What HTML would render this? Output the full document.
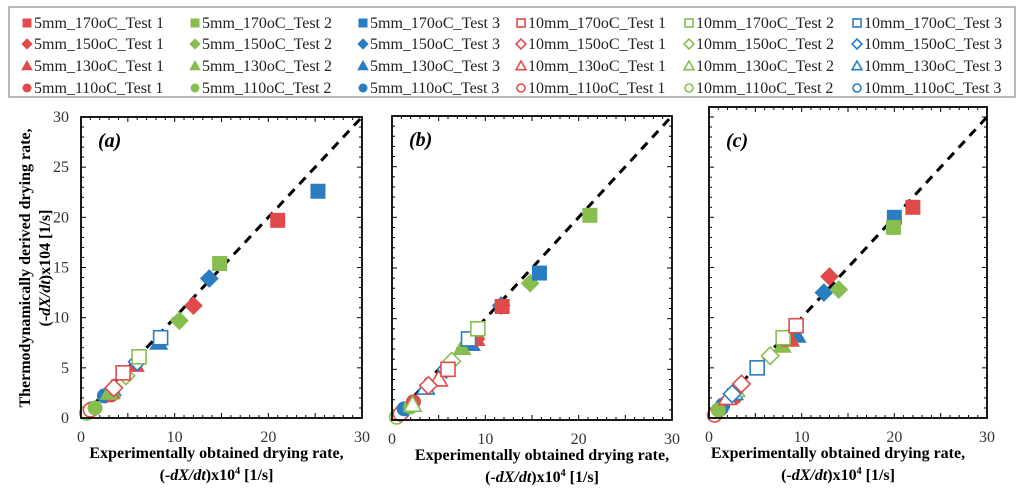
<!DOCTYPE html>
<html><head><meta charset="utf-8">
<style>
html,body{margin:0;padding:0;background:#fff;}
svg{display:block;font-family:"Liberation Serif",serif;}
</style></head>
<body>
<svg id="chart" width="1024" height="492" viewBox="0 0 1024 492"></svg>
<script>
// ---- data ----
const seriesNames = [
 "5mm_170oC_Test 1","5mm_170oC_Test 2","5mm_170oC_Test 3",
 "10mm_170oC_Test 1","10mm_170oC_Test 2","10mm_170oC_Test 3",
 "5mm_150oC_Test 1","5mm_150oC_Test 2","5mm_150oC_Test 3",
 "10mm_150oC_Test 1","10mm_150oC_Test 2","10mm_150oC_Test 3",
 "5mm_130oC_Test 1","5mm_130oC_Test 2","5mm_130oC_Test 3",
 "10mm_130oC_Test 1","10mm_130oC_Test 2","10mm_130oC_Test 3",
 "5mm_110oC_Test 1","5mm_110oC_Test 2","5mm_110oC_Test 3",
 "10mm_110oC_Test 1","10mm_110oC_Test 2","10mm_110oC_Test 3"];
const seriesShape = ["square","square","square","square","square","square",
 "diamond","diamond","diamond","diamond","diamond","diamond",
 "triangle","triangle","triangle","triangle","triangle","triangle",
 "circle","circle","circle","circle","circle","circle"];
const seriesFilled = [1,1,1,0,0,0, 1,1,1,0,0,0, 1,1,1,0,0,0, 1,1,1,0,0,0];
const seriesColor = ["#e04a4a","#88bd4f","#2a7dc0","#e04a4a","#88bd4f","#2a7dc0",
 "#e04a4a","#88bd4f","#2a7dc0","#e04a4a","#88bd4f","#2a7dc0",
 "#e04a4a","#88bd4f","#2a7dc0","#e04a4a","#88bd4f","#2a7dc0",
 "#e04a4a","#88bd4f","#2a7dc0","#e04a4a","#88bd4f","#2a7dc0"];
const aX = [21,14.8,25.3, 4.5,6.2,8.5, 12,10.5,13.7, 3.5,4.8,6, 5.8,3,8.3, 3.1,3.2,3.3, 3.2,1.5,2.5, 1,0.6,1.2];
const aY = [19.7,15.4,22.6, 4.5,6.1,8, 11.2,9.7,13.9, 3,4.2,5.6, 5.3,2.5,7.5, 2.6,2.7,2.9, 2.3,1,2.2, 0.8,0.5,0.9];
const bX = [11.8,21.2,15.8, 6,9.2,8.2, 9,14.8,11.7, 3.9,6.4,5.8, 9,7.5,8.5, 5,2.2,3.6, 2.3,2,1.3, 0.9,0.5,1.1];
const bY = [11.2,20.2,14.5, 5,9,8, 8,13.5,11.3, 3.4,5.8,5, 8,7.1,7.5, 4,1.5,3.2, 1.8,1.3,1.1, 0.6,0.3,0.8];
const cX = [22,19.9,20, 9.4,8,5.2, 13,14,12.4, 3.5,6.6,2.5, 8.8,7.9,9.5, 2,2.9,2.7, 2.8,1,1.5, 0.6,0.8,1.3];
const cY = [21,19,20, 9.2,8,5, 14.1,12.8,12.5, 3.4,6.2,2.4, 7.8,7.2,8.2, 2,2.8,2.5, 2.1,0.8,1.3, 0.3,0.5,1];
const tickVals = [0,10,20,30];
const yTickVals = [0,5,10,15,20,25,30];
const panelLabels = ["(a)","(b)","(c)"];

const NS = "http://www.w3.org/2000/svg";
const svg = document.getElementById("chart");
function mk(tag, attrs, parent){const e=document.createElementNS(NS,tag);for(const k in attrs)e.setAttribute(k,attrs[k]);(parent||svg).appendChild(e);return e;}

function marker(g, shape, filled, color, cx, cy, s){
  const fill = filled ? color : "#fff";
  const sw = filled ? 1 : 1.6;
  let el;
  if(shape==="square") el = mk("rect",{x:cx-s/2,y:cy-s/2,width:s,height:s,fill:fill,stroke:color,"stroke-width":sw},g);
  else if(shape==="diamond"){const r=s*0.62;el = mk("polygon",{points:`${cx},${cy-r} ${cx+r},${cy} ${cx},${cy+r} ${cx-r},${cy}`,fill:fill,stroke:color,"stroke-width":sw},g);}
  else if(shape==="triangle"){const r=s*0.62;el = mk("polygon",{points:`${cx},${cy-r} ${cx+r},${cy+r*0.75} ${cx-r},${cy+r*0.75}`,fill:fill,stroke:color,"stroke-width":sw},g);}
  else el = mk("circle",{cx:cx,cy:cy,r:s/2,fill:fill,stroke:color,"stroke-width":sw},g);
  return el;
}

// legend
const lg = mk("g",{});


mk("rect",{x:9,y:7,width:1006,height:90,fill:"#fff",stroke:"#888","stroke-width":1.2},lg);
const legCols=[27,195,363,521,689,857], legRows=[23,44,66,88];
const order = [[0,1,2,3,4,5],[6,7,8,9,10,11],[12,13,14,15,16,17],[18,19,20,21,22,23]];
order.forEach((row,ri)=>row.forEach((si,ci)=>{
  const e = mk("g",{},lg);
  
  
  marker(e, seriesShape[si], seriesFilled[si], seriesColor[si], legCols[ci], legRows[ri], 8);
  const t = mk("text",{x:legCols[ci]+7,y:legRows[ri]+5,"font-size":16,fill:"#222"},e);
  t.textContent = seriesNames[si];
}));

// panels (y30 = pixel of value 30; t = box top)
const panels = [
 {l:81,r:362,t:117,y30:117,b:418,X:aX,Y:aY,yl:true},
 {l:392,r:672,t:116,y30:116,b:420,X:bX,Y:bY,yl:false},
 {l:709,r:987,t:107,y30:117,b:418,X:cX,Y:cY,yl:false}];
panels.forEach((p,pi)=>{
  const g = mk("g",{});
  
  
  const sx = v=>p.l+(p.r-p.l)*v/30, sy = v=>p.b-(p.b-p.y30)*v/30;
  for(let v=0;v<=31;v++){
    const len = v%5===0?5:3;
    if(sy(v)>=p.t-0.5){
      mk("line",{x1:p.l,x2:p.l+len,y1:sy(v),y2:sy(v),stroke:"#000","stroke-width":1},g);
      mk("line",{x1:p.r,x2:p.r-len,y1:sy(v),y2:sy(v),stroke:"#000","stroke-width":1},g);
    }
    if(v<=30){
      mk("line",{x1:sx(v),x2:sx(v),y1:p.b,y2:p.b-len,stroke:"#000","stroke-width":1},g);
      mk("line",{x1:sx(v),x2:sx(v),y1:p.t,y2:p.t+len,stroke:"#000","stroke-width":1},g);
    }
  }
  const clipId="clip"+pi;
  const cp = mk("clipPath",{id:clipId},g);
  mk("rect",{x:p.l,y:p.t,width:p.r-p.l,height:p.b-p.t},cp);
  const dl = mk("line",{x1:sx(0),y1:sy(0),x2:sx(31),y2:sy(31),stroke:"#000","stroke-width":3,"stroke-dasharray":"9,7","clip-path":`url(#${clipId})`},g);
  
  
  const idx=[...Array(24).keys()];
  idx.slice().reverse().forEach(i=>{
    const m = marker(g, seriesShape[i], seriesFilled[i], seriesColor[i], sx(p.X[i]), sy(p.Y[i]), 14);
    
    
  });
  mk("rect",{x:p.l,y:p.t,width:p.r-p.l,height:p.b-p.t,fill:"none",stroke:"#000","stroke-width":1.8},g);
  tickVals.forEach(v=>{
    const t=mk("text",{x:sx(v),y:p.b+24,"text-anchor":"middle","font-size":16,fill:"#333"},g);
    t.textContent=v;
  });
  if(p.yl) yTickVals.forEach(v=>{
    const t=mk("text",{x:p.l-12,y:sy(v)+5,"text-anchor":"end","font-size":16,fill:"#333"},g);
    t.textContent=v;
  });
  const pl = mk("text",{x:p.l+17,y:p.y30+30,"font-size":20,"font-weight":"bold","font-style":"italic"},g);
  pl.textContent=panelLabels[pi];
  const cx=(p.l+p.r)/2+(pi===0?-5:pi===2?-10:10);
  const x1=mk("text",{x:cx,y:p.b+40,"text-anchor":"middle","font-size":16,"font-weight":"bold"},g);
  x1.textContent="Experimentally obtained drying rate,";
  
  
  const x2=mk("text",{x:cx,y:p.b+62,"text-anchor":"middle","font-size":16,"font-weight":"bold"},g);
  x2.innerHTML='(-<tspan font-style="italic">dX/dt</tspan>)x10<tspan font-size="10" dy="-6">4</tspan><tspan dy="6"> [1/s]</tspan>';
});
const yt = mk("text",{transform:"translate(30,268) rotate(-90)","text-anchor":"middle","font-size":16,"font-weight":"bold"});
yt.textContent="Thermodynamically derived drying rate,";


const yt2 = mk("text",{transform:"translate(50,268) rotate(-90)","text-anchor":"middle","font-size":16,"font-weight":"bold"});
yt2.innerHTML='(-<tspan font-style="italic">dX/dt</tspan>)x104  [1/s]';
</script>
</body></html>
